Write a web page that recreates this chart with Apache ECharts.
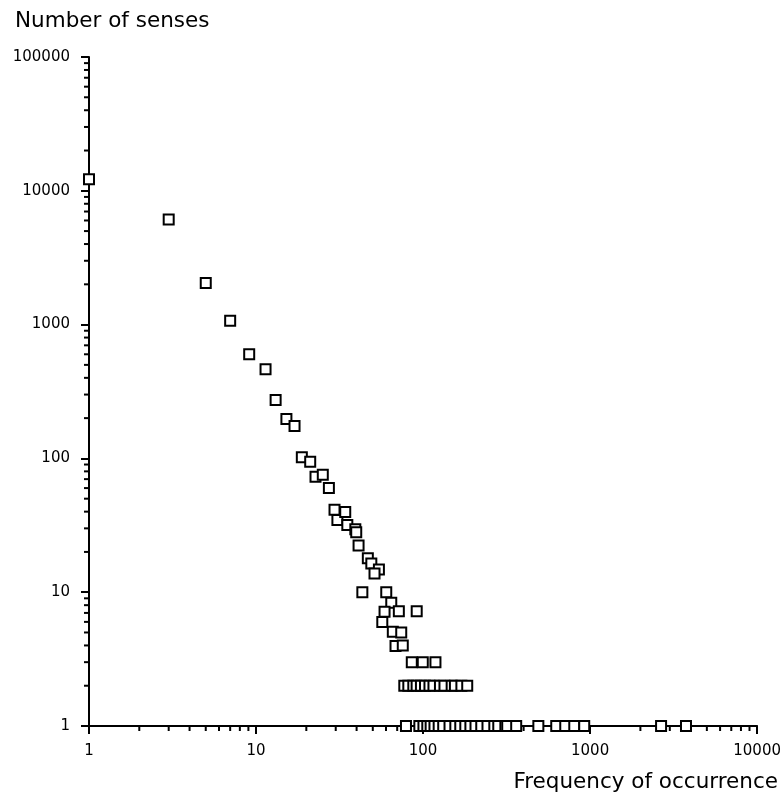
<!DOCTYPE html>
<html><head><meta charset="utf-8">
<script src="https://cdn.jsdelivr.net/npm/echarts@6/dist/echarts.min.js"></script>
<style>html,body{margin:0;padding:0;background:#fff}#c{width:784px;height:798px}</style>
</head><body><div id="c"></div>
<script>
const xLabel = 'Frequency of occurrence';
const yLabel = 'Number of senses';

// frequency of occurrence (x) and number of senses (y)
const frequency = [
  1, 3, 5, 7, 9.1, 11.4, 13.1, 15.2, 17, 18.8, 21.1, 22.7, 25.1, 27.3, 29.5, 30.7,
  34.2, 35.2, 39.3, 39.8, 41.1, 46.7, 49, 54.4, 51.2, 43.3, 60.2, 64.5, 58.8, 71.6,
  91.6, 57, 65.9, 74, 68.4, 75.6, 85.6, 99.6, 118.6,
  77.2, 81.6, 87.4, 91.5, 97.1, 102.7, 109.2, 115.4, 126.2, 134.3, 148.3, 155.1, 169.6, 183.8,
  79, 95, 100.5, 106, 111, 117, 124, 132, 144, 156, 167, 179, 192, 206, 223, 243, 267,
  282, 311, 319, 361, 490, 627, 710, 804, 922, 2660, 3750
];
const senses = [
  12200, 6100, 2050, 1070, 600, 464, 273, 197, 175, 102, 94.5, 73, 75.5, 60, 41.4, 34.6,
  39.7, 31.8, 29.5, 28, 22.3, 17.9, 16.4, 14.8, 13.8, 10, 10, 8.35, 7.15, 7.2,
  7.2, 6, 5.07, 5, 3.96, 4, 3, 3, 3,
  2, 2, 2, 2, 2, 2, 2, 2, 2, 2, 2, 2, 2, 2,
  1, 1, 1, 1, 1, 1, 1, 1, 1, 1, 1, 1, 1, 1, 1, 1, 1,
  1, 1, 1, 1, 1, 1, 1, 1, 1, 1, 1
];

const xMin = 1, xMax = 10000;
const yMin = 1, yMax = 100000;
const minorTickFactors = [2, 3, 4, 5, 6, 7, 8, 9];
const xDecades = [1, 10, 100, 1000];
const yDecades = [1, 10, 100, 1000, 10000];

const points = frequency.map((f, i) => [f, senses[i]]);
const xMinor = [];
xDecades.forEach(d => minorTickFactors.forEach(f => xMinor.push([d * f, yMin])));
const yMinor = [];
yDecades.forEach(d => minorTickFactors.forEach(f => yMinor.push([xMin, d * f])));

const FONT = 'DejaVu Sans';
const plainNumber = v => String(Math.round(v));
const chart = echarts.init(document.getElementById('c'), null, {renderer: 'canvas'});
chart.setOption({
  animation: false,
  backgroundColor: '#fff',
  grid: {left: 89, right: 25, top: 57, bottom: 72, containLabel: false},
  xAxis: {
    type: 'log', logBase: 10, min: xMin, max: xMax,
    axisLine: {lineStyle: {color: '#000', width: 2}},
    axisTick: {length: 8, lineStyle: {color: '#000', width: 2}},
    axisLabel: {color: '#000', fontFamily: FONT, fontSize: 15, margin: 18, formatter: plainNumber},
    splitLine: {show: false}
  },
  yAxis: {
    type: 'log', logBase: 10, min: yMin, max: yMax,
    axisLine: {lineStyle: {color: '#000', width: 2}},
    axisTick: {length: 8, lineStyle: {color: '#000', width: 2}},
    axisLabel: {color: '#000', fontFamily: FONT, fontSize: 15, margin: 19, formatter: plainNumber},
    splitLine: {show: false}
  },
  graphic: [
    {type: 'text', x: 15, y: 21, style: {text: yLabel, font: '21.5px "DejaVu Sans"', fill: '#000', textVerticalAlign: 'middle'}},
    {type: 'text', x: 778, y: 782, style: {text: xLabel, font: '21.5px "DejaVu Sans"', fill: '#000', textAlign: 'right', textVerticalAlign: 'middle'}}
  ],
  series: [
    {
      type: 'custom', data: xMinor, clip: false, silent: true, z: 1,
      renderItem: function (params, api) {
        const p = api.coord([api.value(0), api.value(1)]);
        return {type: 'line', shape: {x1: p[0], y1: p[1], x2: p[0], y2: p[1] + 5}, style: {stroke: '#000', lineWidth: 2}};
      }
    },
    {
      type: 'custom', data: yMinor, clip: false, silent: true, z: 1,
      renderItem: function (params, api) {
        const p = api.coord([api.value(0), api.value(1)]);
        return {type: 'line', shape: {x1: p[0] - 5, y1: p[1], x2: p[0], y2: p[1]}, style: {stroke: '#000', lineWidth: 2}};
      }
    },
    {
      type: 'scatter', data: points, clip: false, z: 3,
      symbol: 'rect', symbolSize: 10,
      itemStyle: {color: '#fff', borderColor: '#000', borderWidth: 2, opacity: 1}
    }
  ]
});
</script>
</body></html>
